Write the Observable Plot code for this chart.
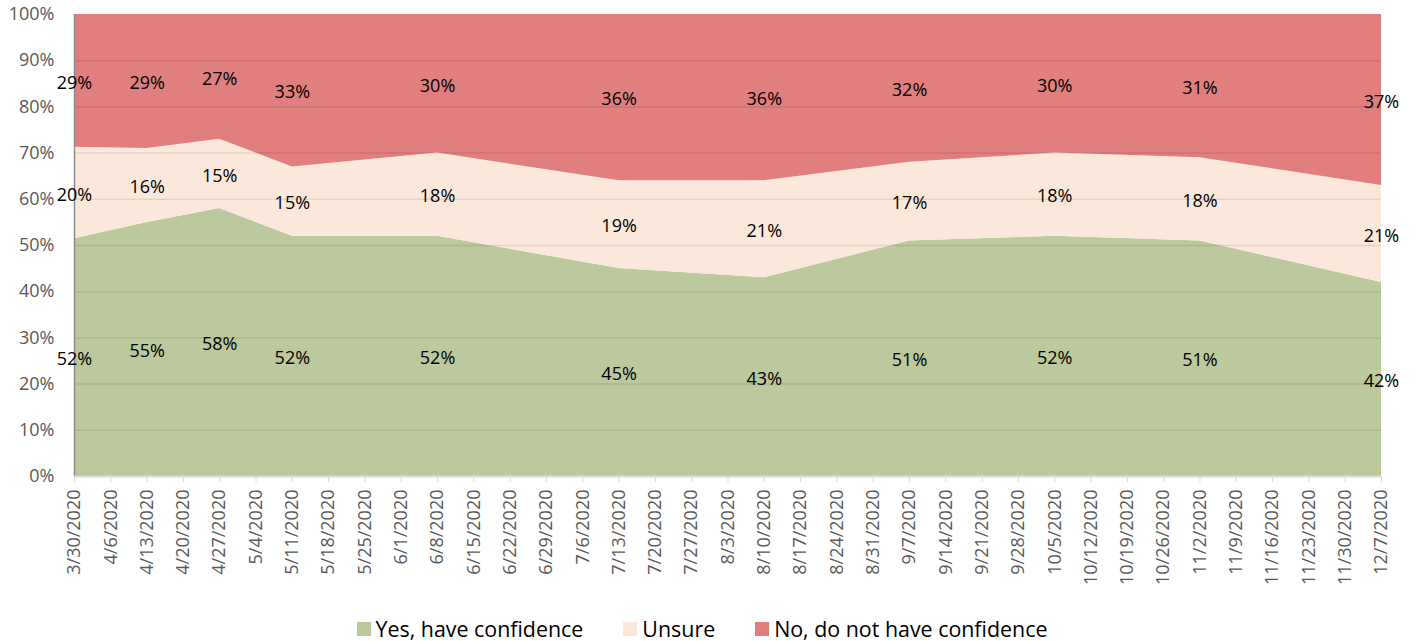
<!DOCTYPE html>
<html>
<head>
<meta charset="utf-8">
<script src="https://cdn.jsdelivr.net/npm/d3@7"></script>
<script src="https://cdn.jsdelivr.net/npm/@observablehq/plot@0.6"></script>
<style>
  html, body { margin: 0; padding: 0; background: #fff; }
  body { width: 1416px; height: 641px; overflow: hidden; font-family: "Open Sans", sans-serif; }
  #legend { display: flex; justify-content: center; align-items: center; padding-top: 16px; padding-right: 12px; height: 25px; font-size: 21.4px; color: #000; }
  .item { display: flex; align-items: center; margin: 0 20px; white-space: nowrap; }
  .sw { width: 14px; height: 14px; margin-right: 5px; }
</style>
</head>
<body>
<div id="chart"></div>
<div id="legend"></div>
<script>
// ---- data ----
const surveyDates = ["3/30/2020","4/13/2020","4/27/2020","5/11/2020","6/8/2020","7/13/2020","8/10/2020","9/7/2020","10/5/2020","11/2/2020","12/7/2020"];
const yesValues    = [52, 55, 58, 52, 52, 45, 43, 51, 52, 51, 42];
const unsureValues = [20, 16, 15, 15, 18, 19, 21, 17, 18, 18, 21];
const noValues     = [29, 29, 27, 33, 30, 36, 36, 32, 30, 31, 37];
const seriesNames  = ["Yes, have confidence", "Unsure", "No, do not have confidence"];
const seriesColors = ["#bcc99c", "#fce8da", "#e07f7e"];
const xTickLabels = ["3/30/2020","4/6/2020","4/13/2020","4/20/2020","4/27/2020","5/4/2020","5/11/2020","5/18/2020","5/25/2020","6/1/2020","6/8/2020","6/15/2020","6/22/2020","6/29/2020","7/6/2020","7/13/2020","7/20/2020","7/27/2020","8/3/2020","8/10/2020","8/17/2020","8/24/2020","8/31/2020","9/7/2020","9/14/2020","9/21/2020","9/28/2020","10/5/2020","10/12/2020","10/19/2020","10/26/2020","11/2/2020","11/9/2020","11/16/2020","11/23/2020","11/30/2020","12/7/2020"];
const yTicks = [0, 0.1, 0.2, 0.3, 0.4, 0.5, 0.6, 0.7, 0.8, 0.9, 1];

// ---- build table ----
const parse = d3.utcParse("%m/%d/%Y");
const fmt = d3.utcFormat("%-m/%-d/%Y");
const seriesValues = [yesValues, unsureValues, noValues];
const rows = [];
surveyDates.forEach((s, i) => {
  const total = yesValues[i] + unsureValues[i] + noValues[i];
  let cum = 0;
  seriesNames.forEach((name, k) => {
    const v = seriesValues[k][i];
    const mid = (cum + v / 2) / total;
    cum += v;
    rows.push({date: parse(s), series: name, value: v, mid, label: v + "%"});
  });
});
const xTicks = xTickLabels.map(parse);
const x0 = parse(surveyDates[0]);

const chart = Plot.plot({
  width: 1416,
  height: 600,
  marginTop: 14,
  marginBottom: 124,
  marginLeft: 74,
  marginRight: 35,
  style: {fontFamily: "Open Sans, sans-serif", background: "#fff"},
  x: {type: "utc", domain: [x0, parse(surveyDates[surveyDates.length - 1])]},
  y: {domain: [0, 1]},
  color: {domain: seriesNames, range: seriesColors},
  marks: [
    Plot.areaY(rows, {x: "date", y: "value", z: "series", fill: "series", order: seriesNames, offset: "normalize"}),
    Plot.ruleY(yTicks.slice(1, -1), {stroke: "#000", strokeOpacity: 0.09, strokeWidth: 1.5}),
    Plot.ruleX([x0], {stroke: "#8c8c8c", strokeWidth: 1.5}),
    Plot.ruleY([0], {stroke: "#d9d9d9", strokeWidth: 2}),
    Plot.axisY({ticks: yTicks, tickFormat: d3.format(".0%"), tickSize: 0, tickPadding: 20, fontSize: 18, color: "#595959", label: null}),
    Plot.axisX({ticks: xTicks, tickFormat: fmt, tickRotate: -90, tickSize: 6, tickPadding: 7, fontSize: 18, color: "#d9d9d9", label: null}),
    Plot.text(rows, {x: "date", y: "mid", text: "label", fontSize: 18, fill: "#000", dy: 2})
  ]
});
// tick label colour
d3.select(chart).selectAll("g[aria-label='x-axis tick label'] text, g[aria-label='x-axis tick label']").attr("fill", "#595959");
document.getElementById("chart").appendChild(chart);

const legend = document.getElementById("legend");
seriesNames.forEach((name, k) => {
  const it = document.createElement("div");
  it.className = "item";
  const sw = document.createElement("div");
  sw.className = "sw";
  sw.style.background = seriesColors[k];
  const t = document.createElement("span");
  t.textContent = name;
  it.appendChild(sw); it.appendChild(t);
  legend.appendChild(it);
});
</script>
</body>
</html>
